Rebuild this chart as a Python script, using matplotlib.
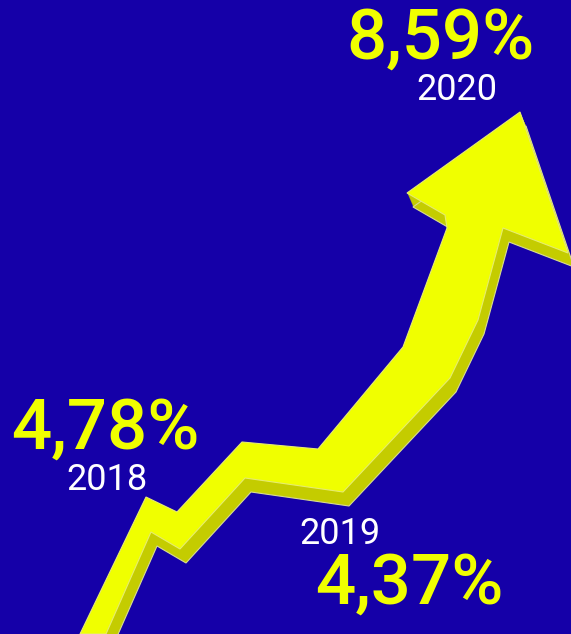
import numpy as np
import matplotlib.pyplot as plt
from matplotlib.patches import Polygon

# values shown on the picture
years = [2018, 2019, 2020]
rates = [4.78, 4.37, 8.59]

# outline of the arrow (front face), pixel space, y going down
arrow_x = [80, 146, 177, 242, 318, 403, 447, 445, 407, 520, 568, 503, 478, 450,
           343, 245, 180, 151, 106]
arrow_y = [634, 497, 512, 442, 449, 347, 228, 215, 193, 112, 253, 228, 320, 378,
           492, 478, 549, 532, 634]

bg = '#1500a8'
yellow = '#f0ff00'
yellow_side = '#c4cc00'

fig = plt.figure(figsize=(5.71, 6.34), dpi=100)
fig.patch.set_facecolor(bg)
ax = fig.add_axes([0, 0, 1, 1])
ax.set_facecolor(bg)
ax.set_xlim(0, 571)
ax.set_ylim(634, 0)
ax.axis('off')

pts = np.column_stack([arrow_x, arrow_y]).astype(float)

# extruded side of the arrow
for t in np.linspace(1, 0.05, 14):
    ax.add_patch(Polygon(pts + t * np.array([6, 14]), closed=True,
                         facecolor=yellow_side, edgecolor='none', zorder=2))
ax.add_patch(Polygon(pts + np.array([6, 14]), closed=True, facecolor='none',
                     edgecolor='#d8dc90', lw=0.8, zorder=2))
# front face
ax.add_patch(Polygon(pts, closed=True, facecolor=yellow, edgecolor='#e6ec70',
                     lw=0.8, zorder=3))

def fmt(v):
    return f'{v:.2f}'.replace('.', ',') + '%'

font = ['Roboto', 'DejaVu Sans']
# (value x, value y, year x, year y) for each label group
val_pos = [(105, 449), (409, 604), (440, 59)]
year_pos = [(107, 490), (340, 544), (457, 100)]
for i in range(3):
    ax.text(val_pos[i][0], val_pos[i][1], fmt(rates[i]), color=yellow,
            fontsize=51, fontfamily=font, fontweight='medium',
            ha='center', va='baseline', zorder=5)
    ax.text(year_pos[i][0], year_pos[i][1], str(years[i]), color='white',
            fontsize=26, fontfamily=font, ha='center', va='baseline', zorder=5)

fig.savefig('out.png', dpi=100, facecolor=bg)
